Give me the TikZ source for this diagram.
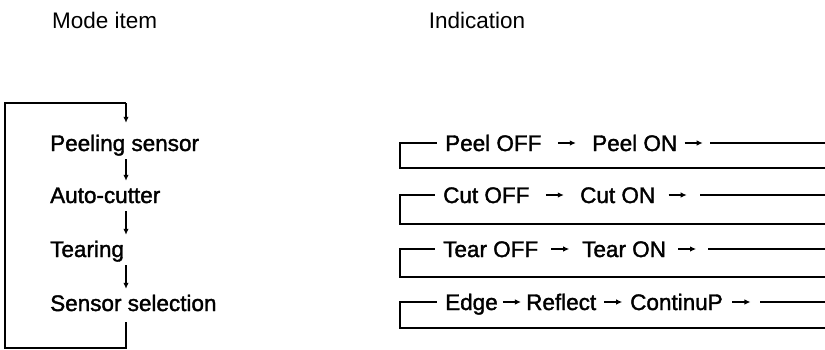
\documentclass[tikz,border=0pt]{standalone}
\usepackage{fontspec}
\setmainfont{Liberation Sans}
\newfontfamily\itemfont{Liberation Sans}[RawFeature={embolden=1.6}]
\usetikzlibrary{positioning,calc}
\usetikzlibrary{arrows.meta}
\tikzset{>={Latex[length=6,width=5.5]}}
\tikzstyle{item}=[anchor=west, inner sep=0pt, text height=16pt, text depth=0pt, font=\itemfont\fontsize{22.5}{26}\selectfont]
\tikzstyle{head}=[inner sep=0pt, font=\fontsize{22.5}{26}\selectfont]
\tikzstyle{loop}=[line width=2.4pt]
\tikzstyle{flow tip}=[->, line width=1.4pt]
\newcommand{\stepto}[2]{\draw[flow tip] ($(#1.east)!0.5!(#2.west)$) ++(-9,0) -- ++(18,0);}

\begin{document}
\begin{tikzpicture}[x=1pt, y=-1pt]
\useasboundingbox (0,0) rectangle (825,349);

% headings
        \node[head, anchor=west] (mode) at (52,20) {Mode item};
        \node[head] (indic) at (477,20) {Indication};

        % mode items
        \coordinate (join) at (126,0);
        \node[item] (peel) at (50,143) {Peeling sensor};
        \node[item] (cutter) at (50,195) {Auto-cutter};
        \node[item] (tear) at (50,249) {Tearing};
        \node[item] (sensor) at (50,303) {Sensor selection};

        \coordinate (jt) at (126,103);
        \coordinate (lt) at (5,103);
        \coordinate (lb) at (5,348);
        \coordinate (jb) at (126,348);

        \begin{scope}[flow tip, shorten <=8pt, shorten >=6pt]
            \draw (peel.south -| join) -- (cutter.north -| join);
            \draw (cutter.south -| join) -- (tear.north -| join);
            \draw (tear.south -| join) -- (sensor.north -| join);
        \end{scope}
        \draw[loop, shorten <=11pt] (sensor.south -| join) -- (jb) -- (lb) -- (lt) -- (jt);
        \draw[flow tip, shorten >=12pt] (jt) -- (peel.north -| join);

        % indications
        \node[item] (peeloff) at (445,143) {Peel OFF};
        \node[item] (peelon) at (592,143) {Peel ON};
        \node[item] (cutoff) at (443,195) {Cut OFF};
        \node[item] (cuton) at (580,195) {Cut ON};
        \node[item] (tearoff) at (443,249) {Tear OFF};
        \node[item] (tearon) at (582,249) {Tear ON};
        \node[item] (edge) at (445,302) {Edge};
        \node[item] (reflect) at (526,302) {Reflect};
        \node[item] (contin) at (630,302) {ContinuP};

        \coordinate (t1) at (710,143); \coordinate (r1) at (825,143);
        \coordinate (t2) at (700,195); \coordinate (r2) at (825,195);
        \coordinate (t3) at (708,249); \coordinate (r3) at (825,249);
        \coordinate (t4) at (760,302); \coordinate (r4) at (825,302);
        \coordinate (l1) at (400,143); \coordinate (l1b) at (400,168); \coordinate (r1b) at (825,168);
        \coordinate (l2) at (400,195); \coordinate (l2b) at (400,224); \coordinate (r2b) at (825,224);
        \coordinate (l3) at (400,249); \coordinate (l3b) at (400,277); \coordinate (r3b) at (825,277);
        \coordinate (l4) at (400,302); \coordinate (l4b) at (400,328); \coordinate (r4b) at (825,328);

        \stepto{peeloff}{peelon}
        \stepto{peelon}{t1}
        \stepto{cutoff}{cuton}
        \stepto{cuton}{t2}
        \stepto{tearoff}{tearon}
        \stepto{tearon}{t3}
        \stepto{edge}{reflect}
        \stepto{reflect}{contin}
        \stepto{contin}{t4}

        \begin{scope}[loop]
            \draw (t1) -- (r1);
            \draw[shorten >=8pt] (r1b) -- (l1b) -- (l1) -- (peeloff.west);
            \draw (t2) -- (r2);
            \draw[shorten >=8pt] (r2b) -- (l2b) -- (l2) -- (cutoff.west);
            \draw (t3) -- (r3);
            \draw[shorten >=8pt] (r3b) -- (l3b) -- (l3) -- (tearoff.west);
            \draw (t4) -- (r4);
            \draw[shorten >=8pt] (r4b) -- (l4b) -- (l4) -- (edge.west);
        \end{scope}

\end{tikzpicture}
\end{document}
